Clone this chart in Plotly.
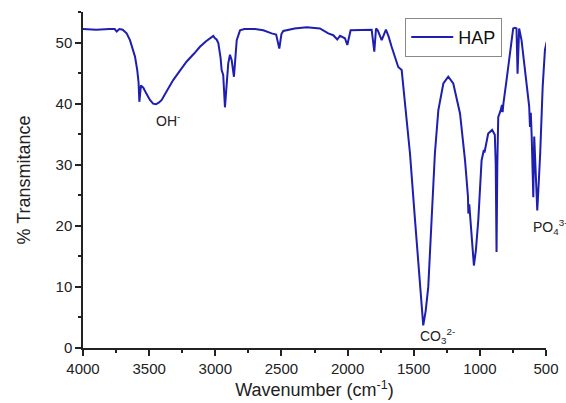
import plotly.graph_objects as go

wavenumber = [4000, 3900, 3800, 3760, 3745, 3725, 3700, 3670, 3645, 3620, 3607, 3590, 3580, 3574, 3566, 3562,
              3550, 3544, 3520, 3494, 3470, 3448, 3425, 3405, 3360, 3317, 3260, 3216, 3160, 3116, 3070, 3040,
              3015, 3002, 2990, 2977, 2960, 2952, 2940, 2927, 2915, 2902, 2889, 2876, 2859, 2848, 2838, 2813,
              2780, 2700, 2637, 2574, 2540, 2516, 2500, 2486, 2400, 2309, 2209, 2146, 2108, 2078, 2057, 2020,
              2002, 1977, 1900, 1818, 1798, 1785, 1772, 1742, 1710, 1690, 1667, 1640, 1617, 1591, 1566, 1528,
              1490, 1453, 1428, 1410, 1390, 1365, 1340, 1314, 1276, 1239, 1201, 1150, 1112, 1090, 1087, 1080,
              1062, 1045, 1030, 1012, 987, 975, 970, 965, 950, 937, 907, 887, 880, 874, 868, 861,
              843, 833, 828, 822, 798, 768, 748, 735, 723, 715, 708, 703, 685, 659, 634, 627,
              621, 615, 608, 600, 596, 589, 576, 566, 555, 544, 525, 508, 495]
transmittance = [52.2, 52.1, 52.2, 52.2, 51.8, 52.2, 52.1, 51.5, 50.4, 48.8, 47.7, 45.5, 43.5, 40.3, 42.5, 43.0,
                 42.7, 42.6, 41.6, 40.6, 40.0, 39.9, 40.2, 40.6, 42.3, 43.9, 45.6, 46.9, 48.2, 49.3, 50.2, 50.7,
                 51.1, 50.7, 50.5, 49.9, 47.5, 45.5, 44.7, 39.4, 43.0, 46.6, 48.0, 47.1, 44.4, 47.5, 50.4, 52.0,
                 52.2, 52.2, 52.0, 51.5, 51.3, 49.0, 51.4, 51.9, 52.3, 52.5, 52.3, 51.5, 51.2, 50.5, 51.1, 50.7,
                 49.6, 52.0, 52.1, 52.1, 48.5, 52.3, 52.0, 50.4, 52.1, 51.0, 49.3, 47.5, 46.0, 45.5, 40.0, 31.8,
                 20.9, 10.0, 3.7, 6.0, 10.0, 20.9, 31.8, 38.9, 43.3, 44.4, 43.3, 38.4, 30.7, 24.8, 22.0, 23.5,
                 18.8, 13.5, 16.0, 20.9, 30.7, 32.0, 32.4, 32.0, 34.0, 35.1, 35.7, 34.9, 30.0, 15.7, 30.0, 37.8,
                 38.9, 39.8, 38.6, 40.0, 43.9, 49.3, 52.3, 52.4, 52.3, 44.9, 52.0, 52.3, 50.4, 45.5, 40.0, 39.5,
                 36.2, 38.5, 34.6, 30.0, 24.7, 34.6, 29.1, 22.5, 27.0, 31.8, 42.8, 48.8, 50.1]

series_name = "HAP"
x_ticks = [4000, 3500, 3000, 2500, 2000, 1500, 1000, 500]
y_ticks = [0, 10, 20, 30, 40, 50]
band_labels = ["OH<sup>-</sup>", "CO<sub>3</sub><sup>2-</sup>", "PO<sub>4</sub><sup>3-</sup>"]
band_x = [3357, 1324, 613]
band_y = [37.3, 2.0, 19.8]

FONT = "Arial, Liberation Sans, sans-serif"
LINE_COLOR = "rgb(30,30,175)"

fig = go.Figure()
fig.add_trace(go.Scatter(x=wavenumber, y=transmittance, mode="lines", name=series_name,
                         line=dict(color=LINE_COLOR, width=2)))

fig.add_annotation(x=band_x[0], y=band_y[0], text=band_labels[0], showarrow=False,
                   font=dict(family=FONT, size=14, color="#222"), xanchor="center", yanchor="middle")
fig.add_annotation(x=band_x[1], y=band_y[1], text=band_labels[1], showarrow=False,
                   font=dict(family=FONT, size=14, color="#222"), xanchor="center", yanchor="middle")
fig.add_annotation(x=band_x[2], y=band_y[2], text=band_labels[2], showarrow=False,
                   font=dict(family=FONT, size=14, color="#222"), xanchor="left", yanchor="middle")

fig.update_layout(
    width=566, height=403,
    margin=dict(l=83, r=20, t=12, b=55),
    paper_bgcolor="white", plot_bgcolor="white",
    font=dict(family=FONT, color="#222"),
    showlegend=True,
    legend=dict(x=0.696, y=0.983, xanchor="left", yanchor="top",
                bordercolor="#888", borderwidth=1, bgcolor="white",
                font=dict(family=FONT, size=18, color="#111"),
                tracegroupgap=0, itemwidth=42),
    xaxis=dict(range=[4000, 500], tickvals=x_ticks, ticks="outside", ticklen=6, tickwidth=1.5,
               tickcolor="#222", showline=True, linecolor="#222", linewidth=1.5, showgrid=False,
               zeroline=False, automargin=False, tickfont=dict(family=FONT, size=15, color="#222"),
               minor=dict(ticks="outside", ticklen=3, tickwidth=1.5, tickcolor="#222", dtick=250,
                          showgrid=False),
               title=dict(text="Wavenumber (cm<sup>-1</sup>)", font=dict(family=FONT, size=18, color="#222"),
                          standoff=8)),
    yaxis=dict(range=[0, 55], tickvals=y_ticks, ticks="outside", ticklen=6, tickwidth=1.5,
               tickcolor="#222", showline=True, linecolor="#222", linewidth=1.5, showgrid=False,
               zeroline=False, automargin=False, tickfont=dict(family=FONT, size=15, color="#222"),
               minor=dict(ticks="outside", ticklen=3, tickwidth=1.5, tickcolor="#222", dtick=5,
                          showgrid=False),
               title=dict(text="% Transmitance", font=dict(family=FONT, size=18, color="#222"),
                          standoff=20)),
)

fig.write_html("out.html", config={"displayModeBar": False},
               post_script="document.body.style.margin='0px';document.body.style.overflow='hidden';")
